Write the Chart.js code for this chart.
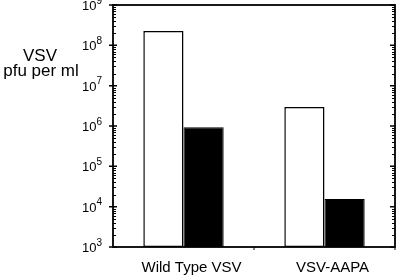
<!DOCTYPE html>
<html>
<head>
<meta charset="utf-8">
<script src="https://cdn.jsdelivr.net/npm/chart.js@4.4.1/dist/chart.umd.min.js"></script>
<style>
html,body{margin:0;padding:0;background:#fff;}
#wrap{position:relative;width:400px;height:277px;}
</style>
</head>
<body>
<div id="wrap"><canvas id="c" width="400" height="277"></canvas></div>
<script>
const categories = ["Wild Type VSV", "VSV-AAPA"];
const seriesOpen = [2.27e8, 2.96e6];
const seriesFilled = [9.3e5, 1.55e4];
const yExponents = [3, 4, 5, 6, 7, 8, 9];
const yTitleLines = ["VSV", "pfu per ml"];
const FONT = "'Liberation Sans', Arial, sans-serif";

const decorPlugin = {
  id: 'decor',
  afterDraw(chart) {
    const ctx = chart.ctx;
    const ca = chart.chartArea;
    const ys = chart.scales.y;
    const xs = chart.scales.x;
    ctx.save();
    ctx.strokeStyle = '#000';
    ctx.fillStyle = '#000';
    ctx.lineWidth = 1.8;
    ctx.strokeRect(ca.left, ca.top, ca.right - ca.left, ca.bottom - ca.top);
    for (let i = 0; i < yExponents.length; i++) {
      const e = yExponents[i];
      const py = ys.getPixelForValue(Math.pow(10, e));
      ctx.beginPath();
      ctx.lineWidth = 1.5;
      ctx.moveTo(ca.left - 4, py); ctx.lineTo(ca.left + 4, py);
      ctx.moveTo(ca.right - 5, py); ctx.lineTo(ca.right, py);
      ctx.stroke();
      if (i < yExponents.length - 1) {
        ctx.lineWidth = 1;
        ctx.beginPath();
        for (let m = 2; m <= 9; m++) {
          const pm = Math.round(ys.getPixelForValue(m * Math.pow(10, e))) + 0.5;
          ctx.moveTo(ca.left, pm); ctx.lineTo(ca.left + 3, pm);
          ctx.moveTo(ca.right - 3, pm); ctx.lineTo(ca.right, pm);
        }
        ctx.stroke();
      }
      ctx.textBaseline = 'middle';
      ctx.textAlign = 'right';
      ctx.font = '13px ' + FONT;
      ctx.fillText('10', ca.left - 16.5, py + 1.5);
      ctx.textAlign = 'left';
      ctx.font = '10px ' + FONT;
      ctx.fillText(String(e), ca.left - 16.5, py - 4);
    }
    ctx.lineWidth = 1;
    ctx.beginPath();
    for (let i = 1; i <= categories.length; i++) {
      const bx = i < categories.length
        ? (xs.getPixelForValue(i - 1) + xs.getPixelForValue(i)) / 2
        : ca.right;
      ctx.moveTo(bx, ca.bottom); ctx.lineTo(bx, ca.bottom + 3);
    }
    ctx.stroke();
    ctx.textAlign = 'center';
    ctx.textBaseline = 'alphabetic';
    ctx.font = '17px ' + FONT;
    ctx.fillText(yTitleLines[0], 40, 61);
    ctx.fillText(yTitleLines[1], 41, 75.5);
    ctx.restore();
  }
};

new Chart(document.getElementById('c'), {
  type: 'bar',
  data: {
    labels: categories,
    datasets: [
      { data: seriesOpen, backgroundColor: '#fff', borderColor: '#000', borderWidth: 1.5, borderSkipped: false },
      { data: seriesFilled, backgroundColor: '#000', borderColor: '#000', borderWidth: 1, borderSkipped: false }
    ]
  },
  options: {
    responsive: false,
    animation: false,
    devicePixelRatio: 1,
    layout: { padding: { top: 5, right: 5, left: 0, bottom: 0 } },
    plugins: { legend: { display: false }, tooltip: { enabled: false } },
    datasets: { bar: { categoryPercentage: 0.57, barPercentage: 1.0 } },
    scales: {
      x: {
        type: 'category',
        grid: { display: false },
        border: { display: false },
        ticks: { color: '#000', font: { family: FONT, size: 15 }, padding: 4, labelOffset: 8, maxRotation: 0 },
        afterFit(s) { s.height = 30; }
      },
      y: {
        type: 'logarithmic',
        min: 1e3,
        max: 1e9,
        grid: { display: false },
        border: { display: false },
        ticks: { display: false },
        afterFit(s) { s.width = 113; }
      }
    }
  },
  plugins: [decorPlugin]
});
</script>
</body>
</html>
